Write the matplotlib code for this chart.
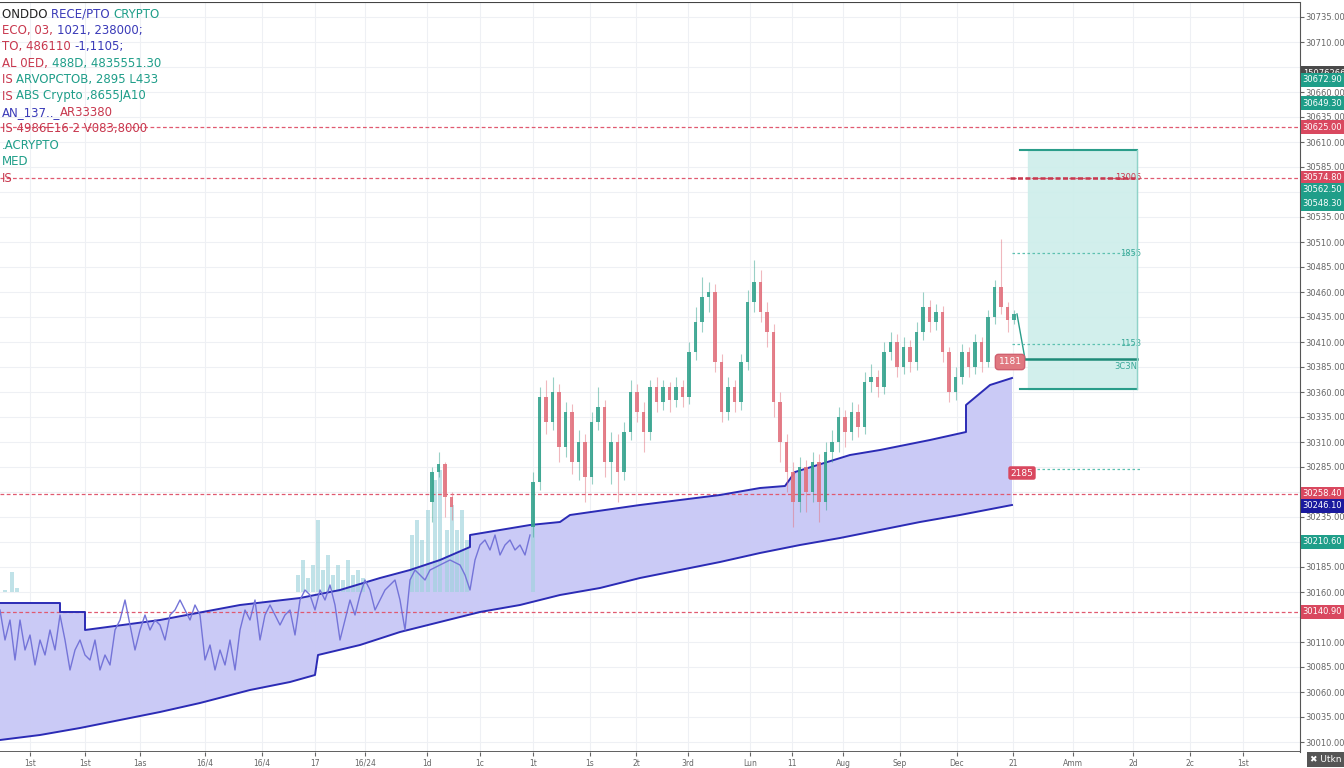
import numpy as np
import matplotlib
matplotlib.use("Agg")
import matplotlib.pyplot as plt

plt.rcParams['font.family'] = ['DejaVu Sans']

# ---------------- data ----------------
# main candles (price units), opened at first_open then chained
first_open = 30225
closes = [30270, 30355, 30330, 30360, 30305, 30340, 30290, 30310, 30275, 30330,
          30345, 30290, 30310, 30280, 30320, 30360, 30340, 30320, 30365, 30350,
          30365, 30352, 30365, 30355, 30400, 30430, 30455, 30460, 30390, 30340,
          30365, 30350, 30390, 30450, 30470, 30440, 30420, 30350, 30310, 30280,
          30250, 30285, 30260, 30290, 30250, 30300, 30310, 30335, 30320, 30340,
          30325, 30370, 30375, 30365, 30400, 30410, 30385, 30405, 30390, 30420,
          30445, 30430, 30440, 30400, 30360, 30375, 30400, 30385, 30410, 30390,
          30435, 30465, 30445, 30432, 30438]
highs = [30280, 30365, 30372, 30375, 30368, 30350, 30348, 30322, 30318, 30340,
         30365, 30352, 30320, 30318, 30330, 30372, 30368, 30350, 30372, 30375,
         30372, 30370, 30375, 30372, 30410, 30445, 30475, 30470, 30468, 30398,
         30375, 30372, 30398, 30462, 30492, 30482, 30450, 30428, 30360, 30318,
         30290, 30295, 30292, 30300, 30298, 30310, 30322, 30345, 30342, 30350,
         30348, 30380, 30388, 30382, 30410, 30420, 30418, 30415, 30412, 30430,
         30460, 30452, 30448, 30446, 30405, 30385, 30408, 30405, 30418, 30415,
         30442, 30472, 30513, 30450, 30442]
lows = [30215, 30262, 30318, 30322, 30290, 30295, 30278, 30272, 30250, 30268,
        30322, 30275, 30268, 30250, 30272, 30312, 30330, 30300, 30312, 30340,
        30342, 30340, 30345, 30345, 30348, 30392, 30420, 30440, 30380, 30330,
        30332, 30340, 30342, 30382, 30440, 30430, 30405, 30335, 30290, 30260,
        30225, 30240, 30240, 30250, 30230, 30242, 30290, 30300, 30305, 30312,
        30315, 30318, 30360, 30355, 30358, 30392, 30375, 30378, 30380, 30382,
        30412, 30420, 30422, 30390, 30350, 30352, 30368, 30375, 30378, 30380,
        30385, 30428, 30438, 30420, 30428]

# early small candle group
early_open = [30250, 30280, 30288, 30255]
early_close = [30280, 30288, 30255, 30245]
early_high = [30285, 30300, 30290, 30260]
early_low = [30230, 30275, 30235, 30232]

# channel band (repeated times = vertical jumps)
upper_t = [0, 60, 60, 85, 85, 160, 240, 300, 340, 380, 410, 440, 470, 470, 530, 560,
           570, 640, 720, 760, 785, 795, 850, 880, 930, 966, 966, 990, 1012]
upper_p = [30149, 30149, 30140, 30140, 30122, 30132, 30147, 30154, 30162, 30174,
           30182, 30192, 30205, 30217, 30227, 30230, 30237, 30247, 30257, 30264,
           30266, 30280, 30297, 30302, 30312, 30320, 30347, 30367, 30374]
lower_t = [0, 40, 80, 120, 160, 200, 250, 290, 315, 318, 360, 400, 440, 480, 520,
           560, 600, 640, 680, 720, 760, 800, 840, 880, 920, 960, 1012]
lower_p = [30012, 30017, 30024, 30032, 30040, 30049, 30062, 30070, 30077, 30097,
           30107, 30120, 30130, 30140, 30147, 30157, 30164, 30174, 30182, 30190,
           30199, 30207, 30214, 30222, 30230, 30237, 30247]

# thin price history line (left)
hist_t = [0, 5, 10, 15, 20, 25, 30, 35, 40, 45, 50, 55, 60, 65, 70, 75, 80, 85, 90,
          95, 100, 105, 110, 115, 120, 125, 130, 135, 140, 145, 150, 155, 160, 165,
          170, 175, 180, 185, 190, 195, 200, 205, 210, 215, 220, 225, 230, 235, 240,
          245, 250, 255, 260, 265, 270, 275, 280, 285, 290, 295, 300, 305, 310, 315,
          320, 325, 330, 335, 340, 345, 350, 355, 360, 365, 370, 375, 380, 385, 390,
          395, 400, 405, 410, 415, 420, 425, 430, 440, 450, 460, 465, 470, 475, 480,
          485, 490, 495, 500, 505, 510, 515, 520, 525, 530]
hist_p = [30142, 30112, 30132, 30092, 30132, 30102, 30117, 30087, 30112, 30097,
          30122, 30102, 30137, 30112, 30082, 30102, 30112, 30097, 30092, 30112,
          30082, 30097, 30087, 30122, 30132, 30152, 30127, 30102, 30122, 30137,
          30122, 30132, 30127, 30112, 30137, 30142, 30152, 30142, 30132, 30147,
          30137, 30092, 30107, 30082, 30102, 30087, 30112, 30082, 30122, 30142,
          30132, 30152, 30112, 30137, 30147, 30137, 30127, 30137, 30142, 30117,
          30152, 30162, 30157, 30142, 30162, 30152, 30167, 30147, 30112, 30132,
          30152, 30137, 30157, 30172, 30162, 30142, 30152, 30162, 30167, 30172,
          30152, 30122, 30172, 30182, 30177, 30172, 30182, 30187, 30192, 30187,
          30177, 30162, 30192, 30207, 30212, 30202, 30217, 30197, 30207, 30212,
          30202, 30207, 30197, 30217]

# faded volume-like bars
fade_t = [5, 12, 17, 298, 303, 308, 313, 318, 323, 328, 333, 338, 343, 348, 353, 358,
          363, 412, 417, 422, 428, 435, 440, 447, 452, 457, 462, 467, 533]
fade_top = [30162, 30180, 30164, 30177, 30192, 30174, 30187, 30232, 30182, 30197,
            30177, 30187, 30172, 30192, 30177, 30182, 30174, 30217, 30232, 30212,
            30242, 30272, 30282, 30222, 30247, 30222, 30242, 30212, 30232]
fade_bottom = 30160

# horizontal levels
red_levels = [30625, 30574, 30258, 30140]

# long position tool
pos_t0, pos_t1 = 1020, 1137
pos_top, pos_entry, pos_bottom = 30602, 30393, 30363
pos_mid_levels = [30499, 30408]
pos_low_level = 30283

# axis labels
x_ticks = [30, 85, 140, 205, 262, 315, 365, 427, 480, 533, 590, 636, 688, 750, 792,
           843, 900, 957, 1013, 1073, 1133, 1190, 1243]
x_labels = ["1st", "1st", "1as", "16/4", "16/4", "17", "16/24", "1d", "1c", "1t",
            "1s", "2t", "3rd", "Lun", "11", "Aug", "Sep", "Dec", "21", "Amm",
            "2d", "2c", "1st"]
y_ticks = list(range(30010, 30750, 25))

# right axis tag boxes: (price, text, colour)
tags = [(30679, "15076266", "#4a4a4a"), (30672, "30672.90", "#1f9e89"),
        (30649, "30649.30", "#1f9e89"), (30625, "30625.00", "#d9485f"),
        (30574, "30574.80", "#d9485f"), (30562, "30562.50", "#1f9e89"),
        (30548, "30548.30", "#1f9e89"), (30258, "30258.40", "#d9485f"),
        (30246, "30246.10", "#1a1a9e"), (30210, "30210.60", "#1f9e89"),
        (30140, "30140.90", "#d9485f")]

# ---------------- drawing ----------------
fig = plt.figure(figsize=(13.44, 7.68), dpi=100)
ax = fig.add_axes([0, 16 / 768, 1300 / 1344, 750 / 768])
ax.set_xlim(0, 1300)
ax.set_ylim(30000, 30750)

green, red = '#35a38e', '#e2727e'

# grid
for t in x_ticks:
    ax.axvline(t, color='#eef0f4', lw=0.8, zorder=0)
for p in y_ticks:
    ax.axhline(p, color='#eef0f4', lw=0.8, zorder=0)

# band
ax.fill(upper_t + lower_t[::-1], upper_p + lower_p[::-1], color='#c8c8f6',
        alpha=0.95, lw=0, zorder=1)
ax.plot(upper_t, upper_p, color='#2b2bb5', lw=1.4, zorder=3)
ax.plot(lower_t, lower_p, color='#2b2bb5', lw=1.4, zorder=3)

# faded bars
ax.bar(fade_t, np.array(fade_top) - fade_bottom, bottom=fade_bottom, width=4,
       color='#9fd3dc', alpha=0.65, zorder=2)

# history line
ax.plot(hist_t, hist_p, color='#7474d8', lw=1.0, zorder=4)

# red dashed levels
for p in red_levels:
    ax.axhline(p, color='#e05a70', lw=0.9, ls=(0, (3, 2)), zorder=2)

# candles
pos = 533 + 6.5 * np.arange(len(closes))
opens = [first_open] + closes[:-1]
cols = [green if c >= o else red for o, c in zip(opens, closes)]
ax.vlines(pos, lows, highs, colors=cols, lw=0.8, alpha=0.5, zorder=5)
ax.bar(pos, np.array(closes) - np.array(opens), bottom=opens, width=3.6,
       color=cols, alpha=0.9, zorder=6)
epos = 432 + 6.5 * np.arange(len(early_close))
ecols = [green if c >= o else red for o, c in zip(early_open, early_close)]
ax.vlines(epos, early_low, early_high, colors=ecols, lw=0.8, alpha=0.5, zorder=5)
ax.bar(epos, np.array(early_close) - np.array(early_open), bottom=early_open,
       width=3.6, color=ecols, alpha=0.9, zorder=6)

# position tool
ax.fill_between([1028, pos_t1], pos_bottom, pos_top, color='#cdeeea', alpha=0.9, zorder=1)
ax.plot([pos_t0, pos_t1], [pos_top, pos_top], color='#2a9d8a', lw=1.5, zorder=4)
ax.plot([pos_t0, pos_t1], [pos_bottom, pos_bottom], color='#2a9d8a', lw=1.5, zorder=4)
ax.plot([1025, pos_t1], [pos_entry, pos_entry], color='#1e8a78', lw=1.8, zorder=4)
ax.plot([pos_t1, pos_t1], [pos_bottom, pos_top], color='#8fd3c9', lw=1, zorder=4)
ax.plot([pos[-1] + 3, 1025], [closes[-1], pos_entry], color='#2a9d8a', lw=1, zorder=4)
ax.plot([1010, pos_t1], [red_levels[1], red_levels[1]], color='#c8384e', lw=1.8,
        ls=(0, (2, 1)), zorder=4)
for p in pos_mid_levels:
    ax.plot([1012, pos_t1], [p, p], color='#5cc0b0', lw=0.9, ls=(0, (2, 2)), zorder=4)
ax.plot([1012, 1140], [pos_low_level, pos_low_level], color='#5cc0b0', lw=0.9,
        ls=(0, (2, 2)), zorder=4)
ax.text(pos_t1 + 4, red_levels[1], "13005", color='#c8384e', fontsize=6, ha='right', va='center')
ax.text(pos_t1 + 4, pos_mid_levels[0], "1855", color='#3aa898', fontsize=6, ha='right', va='center')
ax.text(pos_t1 + 4, pos_mid_levels[1], "1153", color='#3aa898', fontsize=6, ha='right', va='center')
ax.text(pos_t1, pos_entry - 3, "3C3N", color='#3aa898', fontsize=6, ha='right', va='top')
ax.text(1010, 30390, "1181", color='white', fontsize=6.5, ha='center', va='center',
        bbox=dict(boxstyle='round,pad=0.35', fc='#e07880', ec='#d06070'), zorder=7)
ax.text(1022, pos_low_level - 4, "2185", color='white', fontsize=6.5, ha='center', va='center',
        bbox=dict(boxstyle='round,pad=0.25', fc='#d9485f', ec='none'), zorder=7)

# axes styling
for s in ['top', 'left', 'bottom']:
    ax.spines[s].set_visible(False)
ax.spines['right'].set_color('#555555')
ax.axhline(30000, color='#444444', lw=1.2, zorder=8)
ax.axhline(30750, color='#444444', lw=0.8, zorder=8)
ax.yaxis.tick_right()
ax.set_yticks(y_ticks)
tag_prices = [p for p, _, _ in tags]
ax.set_yticklabels(["" if min(abs(v - q) for q in tag_prices) < 9 else f"{v:.2f}"
                    for v in y_ticks], fontsize=6, color='#666666')
ax.set_xticks(x_ticks)
ax.set_xticklabels(x_labels, fontsize=5.5, color='#666666')
ax.tick_params(axis='x', length=3, pad=2, colors='#666666')
ax.tick_params(axis='y', length=3, pad=1, colors='#666666')

for p, txt, c in tags:
    ax.text(1.002, p, txt, transform=ax.get_yaxis_transform(), fontsize=6, color='white',
            ha='left', va='center', zorder=9,
            bbox=dict(boxstyle='square,pad=0.25', fc=c, ec='none'))

fig.text(1310 / 1344, 4 / 768, "\u2716 Utkn", fontsize=6.5, color='white', ha='left',
         va='bottom', bbox=dict(boxstyle='square,pad=0.3', fc='#555555', ec='none'))

# top-left legend
legend_lines = [
    [("ONDDO ", '#222222'), ("RECE/PTO ", '#3a3ab8'), ("CRYPTO", '#1f9e89')],
    [("ECO, 03, ", '#c8384e'), ("1021, 238000;", '#3a3ab8')],
    [("TO, 486110 ", '#c8384e'), ("-1,1105;", '#3a3ab8')],
    [("AL 0ED, ", '#c8384e'), ("488D, 4835551.30", '#1f9e89')],
    [("IS ", '#c8384e'), ("ARVOPCTOB, 2895 L433", '#1f9e89')],
    [("IS ", '#c8384e'), ("ABS Crypto ,8655JA10", '#1f9e89')],
    [("AN_137.._", '#3a3ab8'), ("AR33380", '#c8384e')],
    [("IS 4986E16 2 V083,8000", '#c8384e')],
    [(".ACRYPTO", '#1f9e89')],
    [("MED", '#1f9e89')],
    [("IS", '#c8384e')],
]
fig.canvas.draw()
for i, parts in enumerate(legend_lines):
    ypx = 14 + i * 16.4
    x = 2
    for txt, c in parts:
        tt = ax.text(x, 30752 - ypx, txt, fontsize=8.5, color=c, va='center',
                     ha='left', zorder=10)
        bb = tt.get_window_extent(renderer=fig.canvas.get_renderer())
        x = ax.transData.inverted().transform((bb.x1, 0))[0]

fig.savefig("out.png", dpi=100)
